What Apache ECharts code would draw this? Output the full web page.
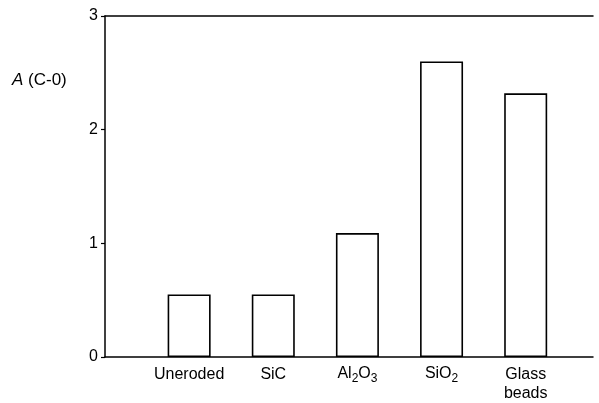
<!DOCTYPE html>
<html>
<head>
<meta charset="utf-8">
<script src="https://cdn.jsdelivr.net/npm/echarts@6/dist/echarts.min.js"></script>
<style>
html,body{margin:0;padding:0;background:#fff;}
#c{width:599px;height:403px;}
</style>
</head>
<body>
<div id="c"></div>
<script>
const categories = ['Uneroded', 'SiC', 'Al2O3', 'SiO2', 'Glass beads'];
const categoryLabels = ['Uneroded', 'SiC', '{t|Al}{s|2}{t|O}{s|3}', '{t|SiO}{s|2}', 'Glass\nbeads'];
const values = [0.55, 0.55, 1.09, 2.6, 2.32];
const yTicks = [0, 1, 2, 3];

const FONT = '"Liberation Sans", Arial, sans-serif';
const chart = echarts.init(document.getElementById('c'));
const barData = values.map((v, i) => [i + 1, v]);

chart.setOption({
  animation: false,
  backgroundColor: '#fff',
  grid: { left: 105, right: 6, top: 16, bottom: 46, containLabel: false },
  xAxis: [{
    type: 'value', min: 0, max: 5.8, interval: 1,
    axisLine: { show: true, onZero: false, lineStyle: { color: '#000', width: 1.5 } },
    axisTick: { show: false },
    splitLine: { show: false },
    axisLabel: {
      show: true, color: '#000', fontFamily: FONT, fontSize: 16, lineHeight: 19, margin: 8,
      showMaxLabel: false, showMinLabel: false,
      formatter: function (v) {
        const i = Math.round(v) - 1;
        if (Math.abs(v - Math.round(v)) > 1e-6 || i < 0 || i >= categoryLabels.length) return '';
        return categoryLabels[i];
      },
      rich: {
        t: { fontFamily: FONT, fontSize: 16, lineHeight: 16, verticalAlign: 'top', padding: [1, 0, 0, 0], color: '#000' },
        s: { fontFamily: FONT, fontSize: 12, lineHeight: 20, verticalAlign: 'bottom', color: '#000' }
      }
    }
  }, {
    type: 'value', position: 'top', min: 0, max: 5.8,
    axisLine: { show: true, onZero: false, lineStyle: { color: '#000', width: 1.5 } },
    axisTick: { show: false }, axisLabel: { show: false }, splitLine: { show: false }
  }],
  yAxis: {
    type: 'value', min: yTicks[0], max: yTicks[yTicks.length - 1], interval: 1,
    axisLine: { show: true, lineStyle: { color: '#000', width: 1.5 } },
    axisTick: { show: true, length: 4, lineStyle: { color: '#000', width: 1.2 } },
    splitLine: { show: false },
    axisLabel: { color: '#000', fontFamily: FONT, fontSize: 16, margin: 7 }
  },
  graphic: [{
    type: 'text', left: 12, top: 72,
    style: {
      text: '{i|A} (C-0)',
      fontFamily: FONT, fontSize: 17, fill: '#000',
      rich: { i: { fontFamily: FONT, fontSize: 17, fontStyle: 'italic', fill: '#000' } }
    }
  }],
  series: [{
    type: 'bar', xAxisIndex: 0,
    data: barData,
    barWidth: 43,
    itemStyle: { color: '#fff', borderColor: '#000', borderWidth: 1.6 },
    emphasis: { disabled: true }
  }]
});
</script>
</body>
</html>
